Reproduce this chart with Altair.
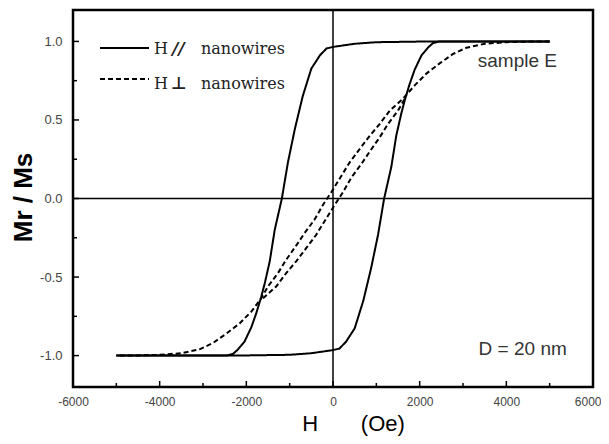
import altair as alt
import pandas as pd

# ---- data (descending branches; ascending = point mirror) ----
par_H = [5000, 4000, 3000, 2000, 1000, 500, 0, -150, -300, -500, -700, -880, -1040,
         -1180, -1345, -1460, -1575, -1660, -1770, -1885, -2040, -2190, -2310, -2450,
         -3500, -5000]
par_M = [1.0, 1.0, 1.0, 0.999, 0.995, 0.985, 0.965, 0.955, 0.912, 0.827, 0.65, 0.443,
         0.23, 0.0, -0.2, -0.4, -0.54, -0.63, -0.73, -0.82, -0.91, -0.96, -0.99, -1.0,
         -1.0, -1.0]

perp_H = [5000, 4500, 4000, 3500, 3080, 2770, 2460, 2155, 1885, 1615, 1310, 1080, 850,
          615, 385, 195, -40, -230, -425, -655, -850, -1080, -1270, -1500, -1655, -1885,
          -2155, -2460, -2770, -3080, -3500, -4000, -4500, -5000]
perp_M = [1.0, 0.999, 0.995, 0.985, 0.96, 0.92, 0.86, 0.795, 0.72, 0.635, 0.56, 0.475,
          0.40, 0.315, 0.23, 0.145, 0.04, -0.04, -0.134, -0.22, -0.30, -0.39, -0.475,
          -0.56, -0.635, -0.72, -0.795, -0.86, -0.92, -0.96, -0.985, -0.995, -0.999, -1.0]
perp_merge = 1655  # beyond this |H| both branches coincide (drawn once)

x_major = [-4000, -2000, 0, 2000, 4000]
x_minor = [-5000, -3000, -1000, 1000, 3000, 5000]
x_labels = [-6000, -4000, -2000, 0, 2000, 4000, 6000]
y_major = [-1.0, -0.5, 0.0, 0.5, 1.0]
y_minor = [-0.75, -0.25, 0.25, 0.75]

legend_symbols = ["//", "\u22a5"]
annotations = ["sample E", "D = 20 nm"]
annot_H = [3340, 3360]
annot_M = [0.837, -0.996]

W, H = 520, 377


def branches(hs, ms, name, style, limit=None):
    rows = []
    for i, (h, m) in enumerate(zip(hs, ms)):
        rows.append(dict(H=h, M=m, branch=name + "_desc", style=style, order=i))
    for j, (h, m) in enumerate(zip(hs, ms)):
        if limit is not None and abs(h) > limit:
            continue
        rows.append(dict(H=-h, M=-m, branch=name + "_asc", style=style, order=j))
    return rows


df = pd.DataFrame(branches(par_H, par_M, "par", "solid")
                  + branches(perp_H, perp_M, "perp", "dash", perp_merge))

xs = alt.Scale(domain=[-6000, 6000], nice=False, zero=False)
ys = alt.Scale(domain=[-1.2, 1.2], nice=False, zero=False)
dash_scale = alt.Scale(domain=["solid", "dash"], range=[[1, 0], [5, 3]])

xaxis = alt.Axis(
    values=x_labels, ticks=False, domain=False, grid=False, labelFlush=False,
    labelOverlap=False, labelExpr="toString(datum.value)",
    labelAlign={"condition": {"test": "datum.value == 6000", "value": "right"},
                "value": "center"},
    labelOffset={"condition": {"test": "datum.value == 6000", "value": 8},
                 "value": 0},
    labelFont="Liberation Sans", labelFontSize=12, labelColor="#444", labelPadding=9,
    title="H" + "\u00a0" * 7 + "(Oe)", titleFont="Liberation Sans", titleFontSize=22,
    titleFontWeight="normal", titleColor="black", titleX=280, titleY=43,
    titleAlign="center", titleBaseline="alphabetic",
)
yaxis = alt.Axis(
    values=y_major, ticks=False, domain=False, grid=False, labelFlush=False,
    labelOverlap=False,
    labelExpr="replace(format(datum.value, '.1f'), '\u2212', '-')",
    labelFont="Liberation Sans", labelFontSize=13, labelColor="#444", labelPadding=11,
    title="Mr / Ms", titleFont="Liberation Sans", titleFontSize=26,
    titleFontWeight="bold", titleColor="black", titleAngle=270, titleX=-50,
    titleY=187, titleAlign="center", titleBaseline="middle",
)

curves = alt.Chart(df).mark_line(color="black", strokeWidth=2).encode(
    x=alt.X("H:Q", scale=xs, axis=xaxis),
    y=alt.Y("M:Q", scale=ys, axis=yaxis),
    order="order:Q",
    detail="branch:N",
    strokeDash=alt.StrokeDash("style:N", scale=dash_scale, legend=None),
)

zero_v = alt.Chart(pd.DataFrame({"H": [0]})).mark_rule(
    color="black", strokeWidth=1.5).encode(x=alt.X("H:Q", scale=xs))
zero_h = alt.Chart(pd.DataFrame({"M": [0.0]})).mark_rule(
    color="black", strokeWidth=1.5).encode(y=alt.Y("M:Q", scale=ys))

xt_major = alt.Chart(pd.DataFrame({"H": x_major})).mark_rule(
    color="black", strokeWidth=1.5).encode(
    x=alt.X("H:Q", scale=xs), y=alt.value(H), y2=alt.value(H - 6))
xt_minor = alt.Chart(pd.DataFrame({"H": x_minor})).mark_rule(
    color="black", strokeWidth=1.5).encode(
    x=alt.X("H:Q", scale=xs), y=alt.value(H), y2=alt.value(H - 4))
yt_major = alt.Chart(pd.DataFrame({"M": y_major})).mark_rule(
    color="black", strokeWidth=1.5).encode(
    y=alt.Y("M:Q", scale=ys), x=alt.value(0), x2=alt.value(6))
yt_minor = alt.Chart(pd.DataFrame({"M": y_minor})).mark_rule(
    color="black", strokeWidth=1.5).encode(
    y=alt.Y("M:Q", scale=ys), x=alt.value(0), x2=alt.value(4))

# legend (drawn by hand, inside the frame)
leg = pd.DataFrame({"style": ["solid", "dash"], "sym": legend_symbols,
                    "ly": [38, 69], "ty": [43.5, 78.5]})
leg_lines = alt.Chart(leg).mark_rule(color="black", strokeWidth=2).encode(
    x=alt.value(27), x2=alt.value(76), y=alt.Y("ly:Q", scale=None),
    strokeDash=alt.StrokeDash("style:N", scale=dash_scale, legend=None),
)
leg_H = alt.Chart(leg).mark_text(
    text="H", font="DejaVu Serif", fontSize=16, align="left", baseline="alphabetic",
    color="#222").encode(x=alt.value(81), y=alt.Y("ty:Q", scale=None))
leg_sym1 = alt.Chart(leg.iloc[:1]).mark_text(
    font="DejaVu Serif", fontSize=17, fontWeight="bold", fontStyle="italic",
    align="left", baseline="alphabetic", color="#222").encode(
    x=alt.value(99), y=alt.Y("ty:Q", scale=None), text="sym:N")
leg_sym2 = alt.Chart(leg.iloc[1:]).mark_text(
    font="DejaVu Sans", fontSize=17, fontWeight="bold",
    align="left", baseline="alphabetic", color="#222").encode(
    x=alt.value(98), y=alt.Y("ty:Q", scale=None), text="sym:N")
leg_word = alt.Chart(leg).mark_text(
    text="nanowires", font="DejaVu Serif", fontSize=16, align="left",
    baseline="alphabetic", color="#222").encode(
    x=alt.value(128), y=alt.Y("ty:Q", scale=None))

notes = alt.Chart(pd.DataFrame({"t": annotations, "H": annot_H, "M": annot_M})).mark_text(
    font="Liberation Sans", fontSize=19, align="left", baseline="alphabetic",
    color="#333").encode(
    x=alt.X("H:Q", scale=xs), y=alt.Y("M:Q", scale=ys), text="t:N")

chart = alt.layer(
    zero_v, zero_h, curves, xt_major, xt_minor, yt_major, yt_minor,
    leg_lines, leg_H, leg_sym1, leg_sym2, leg_word, notes,
).properties(
    width=W, height=H,
    padding={"left": 65, "top": 2, "right": 8, "bottom": 49},
    autosize=alt.AutoSizeParams(type="none"),
    background="white",
).configure_view(stroke="black", strokeWidth=2.5)

chart.save("out.html", embed_options={"renderer": "svg", "actions": False})
